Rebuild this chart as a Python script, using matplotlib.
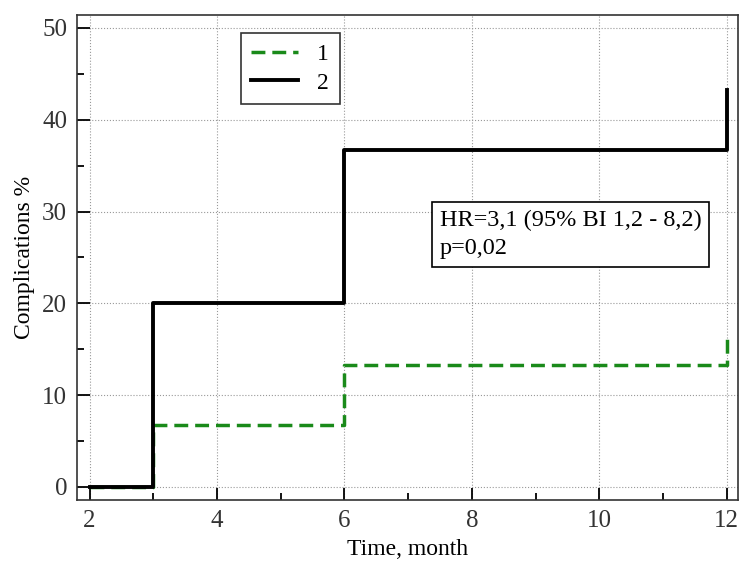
import matplotlib
matplotlib.use("Agg")
import matplotlib.pyplot as plt
from matplotlib.ticker import MultipleLocator

plt.rcParams['font.family'] = ['Liberation Serif', 'DejaVu Serif']

t1 = [2, 3, 3, 6, 6, 12, 12]
y1 = [0, 0, 6.7, 6.7, 13.3, 13.3, 16.7]
t2 = [2, 3, 3, 6, 6, 12, 12]
y2 = [0, 0, 20, 20, 36.7, 36.7, 43.3]
labels = ['1', '2']
annot = "HR=3,1 (95% BI 1,2 - 8,2)\np=0,02"

fig = plt.figure(figsize=(7.39, 5.61), dpi=100)
ax = fig.add_axes([0.104, 0.109, 0.894, 0.864])
ax.plot(t1, y1, color='#1a8a1a', lw=2.5, ls=(0, (4, 2)), label=labels[0], zorder=3)
ax.plot(t2, y2, color='black', lw=2.8, label=labels[1], zorder=3)

ax.set_xlim(1.8, 12.17)
ax.set_ylim(-1.4, 51.4)
ax.xaxis.set_major_locator(MultipleLocator(2))
ax.xaxis.set_minor_locator(MultipleLocator(1))
ax.yaxis.set_major_locator(MultipleLocator(10))
ax.yaxis.set_minor_locator(MultipleLocator(5))
ax.tick_params(which='major', direction='in', length=9, width=1.3, labelsize=18, pad=7,
               labelcolor='#333333')
ax.tick_params(which='minor', direction='in', length=5, width=1.3)
ax.grid(True, which='major', ls=':', color='#999999', lw=0.8)
for s in ax.spines.values():
    s.set_linewidth(1.2)
    s.set_color('#333333')

ax.set_xlabel('Time, month', fontsize=17, labelpad=5)
ax.set_ylabel('Complications %', fontsize=17, labelpad=5)

leg = ax.legend(loc='upper left', bbox_to_anchor=(0.23, 0.987), fontsize=17,
                frameon=True, fancybox=False, edgecolor='black', handlelength=2.0,
                borderpad=0.45, labelspacing=0.28)
leg.get_frame().set_linewidth(1.2)

ax.text(0.549, 0.548, annot, transform=ax.transAxes, fontsize=17.5, va='center', ha='left',
        linespacing=1.45,
        bbox=dict(boxstyle='square,pad=0.33', fc='white', ec='black', lw=1.2), zorder=5)

fig.savefig('out.png', dpi=100)
